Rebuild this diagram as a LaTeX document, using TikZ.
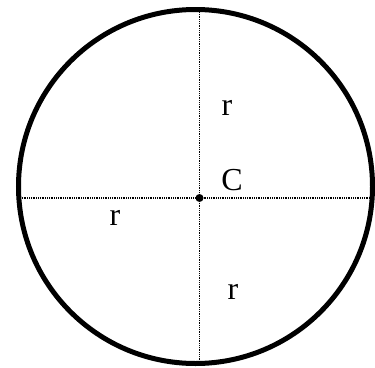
\documentclass[tikz,border=0pt]{standalone}
\usepackage{fontspec}
\setmainfont{Liberation Serif}
\tikzset{
  radline/.style={line width=1.3pt, dash pattern=on 1pt off 0.8pt},
  lbl/.style={font=\fontsize{32}{38}\selectfont, inner sep=0pt}
}
\begin{document}
\begin{tikzpicture}[x=1pt,y=-1pt]
\useasboundingbox (0,0) rectangle (375,367);
\draw[line width=5pt] (195.5,186.5) circle[radius=177pt];

\coordinate (west) at (20,198);
\coordinate (east) at (372,198);
\coordinate (north) at (199.5,12);
\coordinate (south) at (199.5,361);
\coordinate (centre) at (199.5,198);

\draw[radline] (west) -- (east);
\draw[radline] (north) -- (south);
\fill (centre) circle (4pt);

\node[lbl] (rtop) at (227,108) {r};
\node[lbl] (clbl) at (232,180) {C};
\node[lbl] (rleft) at (115,218) {r};
\node[lbl] (rbot) at (233,292) {r};
\end{tikzpicture}
\end{document}
